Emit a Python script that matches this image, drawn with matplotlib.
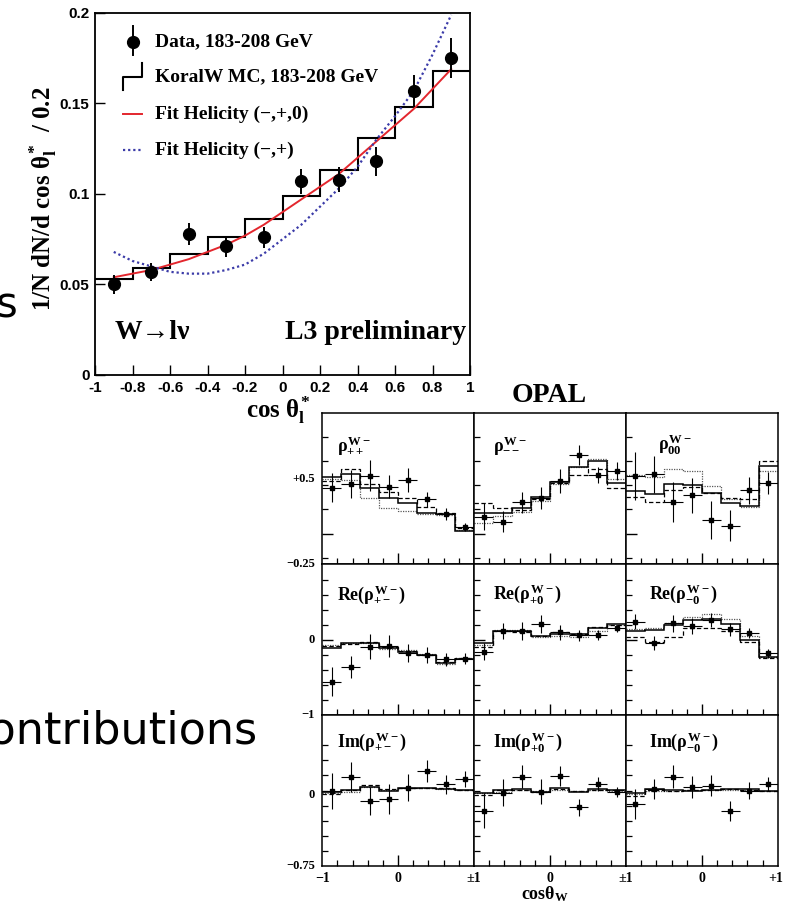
import numpy as np
import matplotlib
matplotlib.use('Agg')
import matplotlib.pyplot as plt
from matplotlib.transforms import blended_transform_factory as btf

plt.rcParams['mathtext.fontset'] = 'custom'
plt.rcParams['mathtext.rm'] = 'Liberation Serif:bold'
plt.rcParams['mathtext.it'] = 'Liberation Serif:bold'
plt.rcParams['mathtext.bf'] = 'Liberation Serif:bold'
plt.rcParams['mathtext.sf'] = 'Liberation Sans:bold'

SERIF = ['Liberation Serif', 'DejaVu Serif']
SANS = ['Liberation Sans', 'DejaVu Sans']

# ---------------- L3 data ----------------
l3_x = [-0.9, -0.7, -0.5, -0.3, -0.1, 0.1, 0.3, 0.5, 0.7, 0.9]
l3_y = [0.050, 0.057, 0.078, 0.071, 0.076, 0.107, 0.108, 0.118, 0.157, 0.175]
l3_err = [0.005, 0.005, 0.006, 0.006, 0.006, 0.007, 0.007, 0.008, 0.009, 0.011]
l3_edges = [-1.0, -0.8, -0.6, -0.4, -0.2, 0.0, 0.2, 0.4, 0.6, 0.8, 1.0]
l3_mc = [0.053, 0.059, 0.067, 0.076, 0.086, 0.099, 0.113, 0.131, 0.148, 0.168]
fit_x = [-0.9, -0.8, -0.7, -0.6, -0.5, -0.4, -0.3, -0.2, -0.1, 0.0,
         0.1, 0.2, 0.3, 0.4, 0.5, 0.6, 0.7, 0.8, 0.9]
fit_red = [0.054, 0.056, 0.058, 0.061, 0.064, 0.068, 0.072, 0.077, 0.083, 0.090,
           0.097, 0.104, 0.111, 0.120, 0.129, 0.138, 0.147, 0.158, 0.169]
fit_blue = [0.068, 0.063, 0.060, 0.057, 0.056, 0.056, 0.058, 0.061, 0.067, 0.075,
            0.083, 0.093, 0.103, 0.115, 0.130, 0.143, 0.157, 0.177, 0.199]
l3_xticks = [-1, -0.8, -0.6, -0.4, -0.2, 0, 0.2, 0.4, 0.6, 0.8, 1]
l3_xticklabels = ['-1', '-0.8', '-0.6', '-0.4', '-0.2', '0', '0.2', '0.4', '0.6', '0.8', '1']
l3_yticks = [0, 0.05, 0.1, 0.15, 0.2]
l3_yticklabels = ['0', '0.05', '0.1', '0.15', '0.2']
l3_legend = ['Data, 183-208 GeV', 'KoralW MC, 183-208 GeV',
             'Fit Helicity (\u2212,+,0)', 'Fit Helicity (\u2212,+)']

# ---------------- OPAL data ----------------
opal_edges = [-1.0, -0.75, -0.5, -0.25, 0.0, 0.25, 0.5, 0.75, 1.0]

rpp_pts = [0.424, 0.456, 0.529, 0.432, 0.491, 0.321, 0.188, 0.079]
rpp_err = [0.126, 0.121, 0.135, 0.103, 0.109, 0.065, 0.053, 0.035]
rpp_solid = [0.515, 0.541, 0.424, 0.329, 0.285, 0.197, 0.188, 0.041]
rpp_dash = [0.482, 0.585, 0.453, 0.388, 0.335, 0.250, 0.197, 0.065]
rpp_dot = [0.497, 0.491, 0.329, 0.241, 0.218, 0.188, 0.182, 0.050]

rmm_pts = [0.168, 0.124, 0.294, 0.332, 0.482, 0.712, 0.535, 0.574]
rmm_err = [0.121, 0.091, 0.094, 0.097, 0.103, 0.091, 0.074, 0.079]
rmm_solid = [0.203, 0.203, 0.241, 0.344, 0.476, 0.603, 0.659, 0.462]
rmm_dash = [0.291, 0.247, 0.226, 0.324, 0.462, 0.535, 0.585, 0.418]
rmm_dot = [0.115, 0.174, 0.212, 0.309, 0.456, 0.609, 0.676, 0.500]

r00_pts = [0.526, 0.541, 0.297, 0.356, 0.138, 0.088, 0.400, 0.468]
r00_err = [0.209, 0.162, 0.176, 0.153, 0.165, 0.138, 0.118, 0.097]
r00_solid = [0.394, 0.368, 0.456, 0.444, 0.374, 0.285, 0.262, 0.615]
r00_dash = [0.344, 0.294, 0.403, 0.432, 0.379, 0.329, 0.324, 0.659]
r00_dot = [0.535, 0.521, 0.585, 0.574, 0.438, 0.321, 0.256, 0.574]

repm_pts = [-0.556, -0.356, -0.089, -0.080, -0.169, -0.204, -0.258, -0.249]
repm_err = [0.191, 0.147, 0.169, 0.142, 0.120, 0.107, 0.089, 0.071]
repm_solid = [-0.111, -0.044, -0.036, -0.111, -0.156, -0.200, -0.311, -0.258]
repm_dash = [-0.080, -0.053, -0.022, -0.098, -0.147, -0.200, -0.289, -0.244]
repm_dot = [-0.067, -0.044, -0.044, -0.124, -0.133, -0.191, -0.324, -0.244]

rep0_pts = [-0.156, 0.120, 0.124, 0.209, 0.102, 0.062, 0.067, 0.156]
rep0_err = [0.111, 0.107, 0.120, 0.120, 0.098, 0.076, 0.062, 0.044]
rep0_solid = [-0.036, 0.124, 0.120, 0.053, 0.080, 0.080, 0.156, 0.209]
rep0_dash = [-0.089, 0.124, 0.111, 0.053, 0.111, 0.080, 0.178, 0.200]
rep0_dot = [-0.067, 0.133, 0.133, 0.044, 0.053, 0.044, 0.120, 0.200]

rem0_pts = [0.244, -0.044, 0.222, 0.187, 0.267, 0.142, 0.089, -0.178]
rem0_err = [0.098, 0.093, 0.111, 0.111, 0.098, 0.089, 0.067, 0.062]
rem0_solid = [0.120, 0.133, 0.200, 0.267, 0.276, 0.209, 0.000, -0.231]
rem0_dash = [0.036, -0.022, 0.044, 0.156, 0.156, 0.120, -0.022, -0.244]
rem0_dot = [0.147, 0.156, 0.222, 0.311, 0.342, 0.276, 0.053, -0.222]

impm_pts = [0.042, 0.187, -0.063, -0.042, 0.077, 0.254, 0.113, 0.169]
impm_err = [0.194, 0.158, 0.148, 0.158, 0.144, 0.120, 0.099, 0.081]
impm_solid = [0.035, 0.053, 0.081, 0.042, 0.070, 0.070, 0.063, 0.053]
impm_dash = [0.011, 0.053, 0.106, 0.060, 0.070, 0.070, 0.070, 0.053]
impm_dot = [0.018, 0.028, 0.088, 0.053, 0.070, 0.077, 0.063, 0.053]

imp0_pts = [-0.165, 0.025, 0.194, 0.035, 0.201, -0.130, 0.113, 0.035]
imp0_err = [0.183, 0.144, 0.123, 0.130, 0.109, 0.088, 0.074, 0.053]
imp0_solid = [0.025, 0.053, 0.060, 0.035, 0.070, 0.035, 0.060, 0.053]
imp0_dash = [0.000, 0.053, 0.053, 0.035, 0.060, 0.042, 0.053, 0.053]
imp0_dot = [0.018, 0.035, 0.053, 0.046, 0.053, 0.046, 0.053, 0.046]

imm0_pts = [-0.099, 0.060, 0.194, 0.088, 0.099, -0.169, 0.046, 0.113]
imm0_err = [0.158, 0.106, 0.123, 0.116, 0.113, 0.106, 0.092, 0.074]
imm0_solid = [0.018, 0.063, 0.053, 0.046, 0.053, 0.063, 0.060, 0.046]
imm0_dash = [-0.011, 0.053, 0.046, 0.053, 0.053, 0.063, 0.053, 0.046]
imm0_dot = [0.007, 0.042, 0.046, 0.053, 0.053, 0.053, 0.053, 0.042]

panel_titles = [
    [r'$\rho^{W-}_{++}$', r'$\rho^{W-}_{--}$', r'$\rho^{W-}_{00}$'],
    [r'$\mathrm{Re(}\rho^{W-}_{+-}\mathrm{)}$', r'$\mathrm{Re(}\rho^{W-}_{+0}\mathrm{)}$',
     r'$\mathrm{Re(}\rho^{W-}_{-0}\mathrm{)}$'],
    [r'$\mathrm{Im(}\rho^{W-}_{+-}\mathrm{)}$', r'$\mathrm{Im(}\rho^{W-}_{+0}\mathrm{)}$',
     r'$\mathrm{Im(}\rho^{W-}_{-0}\mathrm{)}$'],
]
panel_data = [
    [(rpp_pts, rpp_err, rpp_solid, rpp_dash, rpp_dot),
     (rmm_pts, rmm_err, rmm_solid, rmm_dash, rmm_dot),
     (r00_pts, r00_err, r00_solid, r00_dash, r00_dot)],
    [(repm_pts, repm_err, repm_solid, repm_dash, repm_dot),
     (rep0_pts, rep0_err, rep0_solid, rep0_dash, rep0_dot),
     (rem0_pts, rem0_err, rem0_solid, rem0_dash, rem0_dot)],
    [(impm_pts, impm_err, impm_solid, impm_dash, impm_dot),
     (imp0_pts, imp0_err, imp0_solid, imp0_dash, imp0_dot),
     (imm0_pts, imm0_err, imm0_solid, imm0_dash, imm0_dot)],
]
row_ylim = [(-0.25, 1.079), (-1.0, 1.013), (-0.75, 0.845)]
row_major = [[0.015], [0.0], []]
row_minor = [[-0.2, 0.232, 0.444, 0.656, 0.868],
             [-0.8, -0.6, -0.4, -0.2, 0.2, 0.4, 0.6, 0.8],
             [0.528, 0.370, 0.211, 0.046, -0.116, -0.275, -0.433, -0.592]]
row_labels = [[(0.5, '+0.5'), (-0.25, '\u22120.25')],
              [(0.0, '0'), (-1.0, '\u22121')],
              [(0.0, '0'), (-0.75, '\u22120.75')]]
col_xlabels = [[(0.0, '\u22121'), (0.5, '0'), (1.0, '\u00b11')],
               [(0.5, '0'), (1.0, '\u00b11')],
               [(0.5, '0'), (0.985, '+1')]]

# ---------------- figure ----------------
W, H = 785, 908
fig = plt.figure(figsize=(W / 100, H / 100), dpi=100)


def box(x0, y0, x1, y1):
    return [x0 / W, 1 - y1 / H, (x1 - x0) / W, (y1 - y0) / H]


def fp(px, py):
    return px / W, 1 - py / H


# slide text fragments
fig.text(*fp(-4, 317), 's', fontsize=30, family='DejaVu Sans', ha='left', va='baseline')
fig.text(*fp(258, 743), 'contributions', fontsize=32, family='DejaVu Sans',
         ha='right', va='baseline')

# ---- L3 plot
ax = fig.add_axes(box(95, 13, 470, 375))
ax.set_xlim(-1, 1)
ax.set_ylim(0, 0.2)
ax.stairs(l3_mc, l3_edges, baseline=None, color='k', lw=1.5)
ax.plot(fit_x, fit_red, color='#e3262d', lw=1.4)
ax.plot(fit_x, fit_blue, color='#3b3ba8', lw=1.6, ls=(0, (1, 1.3)))
ax.errorbar(l3_x, l3_y, yerr=l3_err, fmt='o', ms=8.5, color='k', elinewidth=1.4, capsize=0)
ax.set_xticks(l3_xticks)
ax.set_xticklabels(l3_xticklabels)
ax.set_yticks(l3_yticks)
ax.set_yticklabels(l3_yticklabels)
ax.tick_params(direction='in', length=7, width=1.0, labelsize=11, pad=4)
for lab in ax.get_xticklabels() + ax.get_yticklabels():
    lab.set_fontfamily(SANS)
    lab.set_fontweight('bold')
for s in ax.spines.values():
    s.set_linewidth(1.3)


def a(px, py):
    return (px - 95) / 375, (375 - py) / 362


tA = ax.transAxes
x0, y0 = a(133, 41.7)
ax.plot([x0], [y0], 'o', ms=8.5, color='k', transform=tA, clip_on=False)
xa, ya = a(133, 26)
xb, yb = a(133, 55)
ax.plot([xa, xb], [ya, yb], color='k', lw=1.4, transform=tA)
pts = [a(123, 90), a(123, 77), a(142, 77), a(142, 63)]
ax.plot([p[0] for p in pts], [p[1] for p in pts], color='k', lw=1.5, transform=tA)
p1, p2 = a(123, 114), a(142, 114)
ax.plot([p1[0], p2[0]], [p1[1], p2[1]], color='#e3262d', lw=1.4, transform=tA)
p1, p2 = a(123, 150), a(142, 150)
ax.plot([p1[0], p2[0]], [p1[1], p2[1]], color='#3b3ba8', lw=1.6, ls=(0, (1, 1.3)), transform=tA)
for lbl, py in zip(l3_legend, [41.7, 77, 114, 150]):
    tx, ty = a(155, py)
    ax.text(tx, ty, lbl, transform=tA, fontsize=14, family=SERIF, weight='bold',
            ha='left', va='center')
tx, ty = a(115, 339)
ax.text(tx, ty, 'W\u2192l\u03bd', transform=tA, fontsize=20, family=SERIF, weight='bold',
        ha='left', va='baseline')
tx, ty = a(466, 339)
ax.text(tx, ty, 'L3 preliminary', transform=tA, fontsize=20, family=SERIF, weight='bold',
        ha='right', va='baseline')

fig.text(*fp(43, 199), r'1/N dN/d cos $\theta^{*}_{l}$  / 0.2', rotation=90, fontsize=18,
         family=SERIF, weight='bold', ha='center', va='center')
fig.text(*fp(278, 410), r'cos $\theta^{*}_{l}$', fontsize=18, family=SERIF, weight='bold',
         ha='center', va='center')

# ---- OPAL grid
col_x = [(322.3, 474.0), (474.0, 626.0), (626.0, 777.7)]
row_y = [(413.3, 564.0), (564.0, 715.0), (715.0, 866.0)]
title_pos = [[(337, 451), (493, 451), (658, 451)],
             [(337, 600), (493, 600), (649, 600)],
             [(337, 747), (493, 747), (649, 747)]]
centers = [(opal_edges[i] + opal_edges[i + 1]) / 2 for i in range(len(opal_edges) - 1)]
halfw = [(opal_edges[i + 1] - opal_edges[i]) / 2 for i in range(len(opal_edges) - 1)]

for r in range(3):
    for c in range(3):
        xl, xr = col_x[c]
        yt, yb_ = row_y[r]
        axp = fig.add_axes(box(xl, yt, xr, yb_))
        pts_, err_, sol, das, dot = panel_data[r][c]
        axp.set_xlim(-1, 1)
        axp.set_ylim(*row_ylim[r])
        axp.stairs(dot, opal_edges, baseline=None, color='0.35', lw=0.9, ls=(0, (1, 1)))
        axp.stairs(das, opal_edges, baseline=None, color='k', lw=0.9, ls=(0, (3.5, 2)))
        axp.stairs(sol, opal_edges, baseline=None, color='k', lw=1.1)
        axp.errorbar(centers, pts_, yerr=err_, xerr=halfw, fmt='s', ms=3.2, color='k',
                     elinewidth=0.8, capsize=0)
        axp.set_xticks([0.0])
        axp.set_xticks([-0.8, -0.6, -0.4, -0.2, 0.2, 0.4, 0.6, 0.8], minor=True)
        axp.set_yticks(row_major[r])
        axp.set_yticks(row_minor[r], minor=True)
        axp.tick_params(which='major', direction='in', length=8, width=1.0,
                        labelbottom=False, labelleft=False)
        axp.tick_params(which='minor', direction='in', length=4, width=0.9)
        for s in axp.spines.values():
            s.set_linewidth(1.1)
        tp = title_pos[r][c]
        fig.text(*fp(*tp), panel_titles[r][c], fontsize=13, family=SERIF, weight='bold',
                 ha='left', va='baseline')
        if c == 0:
            tr = btf(axp.transAxes, axp.transData)
            for val, lab in row_labels[r]:
                axp.text(-0.05, val, lab, transform=tr, fontsize=9, family=SERIF,
                         weight='bold', ha='right', va='center')
        if r == 2:
            for xv, lab in col_xlabels[c]:
                axp.text(xv, -0.085, lab, transform=axp.transAxes, fontsize=10,
                         family=SERIF, weight='bold', ha='center', va='center')

fig.text(*fp(549, 395.5), 'OPAL', fontsize=20, family=SERIF, weight='bold',
         ha='center', va='center')
fig.text(*fp(545, 899), r'cos$\theta_{W}$', fontsize=13, family=SERIF, weight='bold',
         ha='center', va='baseline')

fig.savefig('out.png', dpi=100)
